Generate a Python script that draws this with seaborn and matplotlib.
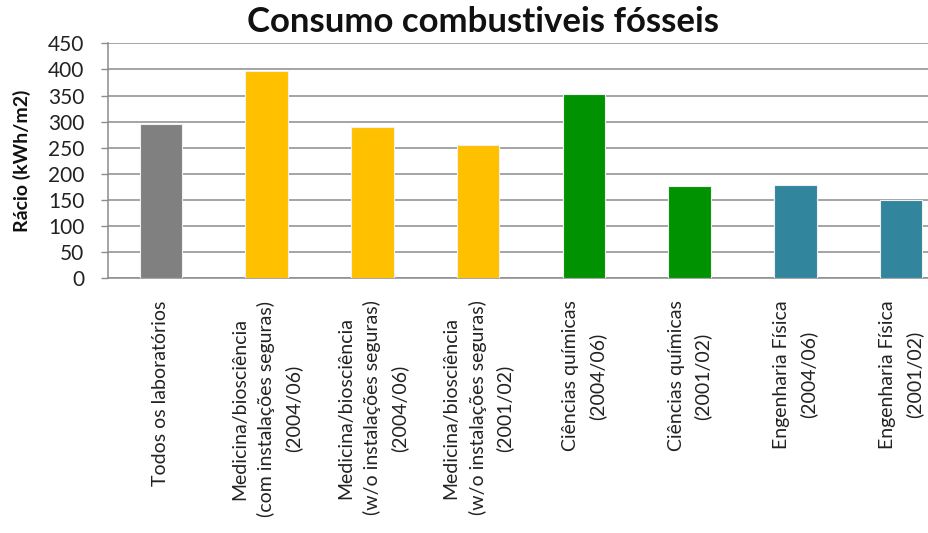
import matplotlib
matplotlib.use("Agg")
import matplotlib.pyplot as plt
import seaborn as sns
import pandas as pd

categories = [
    "Todos os laboratórios",
    "Medicina/biosciência\n(com instalações seguras)\n(2004/06)",
    "Medicina/biosciência\n(w/o instalações seguras)\n(2004/06)",
    "Medicina/biosciência\n(w/o instalações seguras)\n(2001/02)",
    "Ciências químicas\n(2004/06)",
    "Ciências químicas\n(2001/02)",
    "Engenharia Física\n(2004/06)",
    "Engenharia Física\n(2001/02)",
]
values = [296, 397, 289, 256, 353, 176, 178, 150]
groups = ["todos", "medicina", "medicina", "medicina",
          "quimica", "quimica", "fisica", "fisica"]
group_colors = {
    "todos": "#808080",
    "medicina": "#FFC000",
    "quimica": "#009200",
    "fisica": "#31859C",
}
yticks = list(range(0, 451, 50))

df = pd.DataFrame({"categoria": categories, "valor": values, "grupo": groups})

sns.set_theme(style="white")
plt.rcParams["font.family"] = ["Lato", "DejaVu Sans"]

fig = plt.figure(figsize=(9.29, 5.33), dpi=100)
ax = fig.add_axes([108 / 929, 1 - 278.3 / 533, 846 / 929, 235 / 533])

sns.barplot(data=df, x="categoria", y="valor", hue="grupo",
            palette=group_colors, dodge=False, legend=False, saturation=1,
            width=0.4, edgecolor="#f0f0f0", linewidth=0.8, ax=ax, zorder=3)

ax.set_ylim(0, 450)
ax.set_yticks(yticks)
ax.set_yticklabels([str(t) for t in yticks], fontsize=15, color="#222222")
ax.yaxis.grid(True, color="#8c8c8c", linewidth=1.1, zorder=0)
ax.set_axisbelow(True)
ax.tick_params(axis="y", which="major", direction="out", length=5,
               width=1, color="#8c8c8c", pad=12, left=True)
ax.tick_params(axis="x", length=0, pad=16)

for side in ["top", "right"]:
    ax.spines[side].set_visible(False)
for side in ["left", "bottom"]:
    ax.spines[side].set_color("#8c8c8c")
    ax.spines[side].set_linewidth(1.1)

ax.set_xticks(range(len(categories)))
ax.set_xticklabels(categories, rotation=90, ha="center", va="top",
                   multialignment="center", fontsize=14, color="#222222",
                   linespacing=1.6)
ax.set_xlabel("")
ax.set_ylabel("Rácio (kWh/m2)", fontsize=14, fontweight="bold",
              color="#111111")
ax.yaxis.set_label_coords((31 - 108) / 846, 0.5)

fig.text(483 / 929, 1 - 22 / 533, "Consumo combustiveis fósseis",
         ha="center", va="center", fontsize=25, fontweight="bold",
         color="#111111")

fig.savefig("out.png", dpi=100)
